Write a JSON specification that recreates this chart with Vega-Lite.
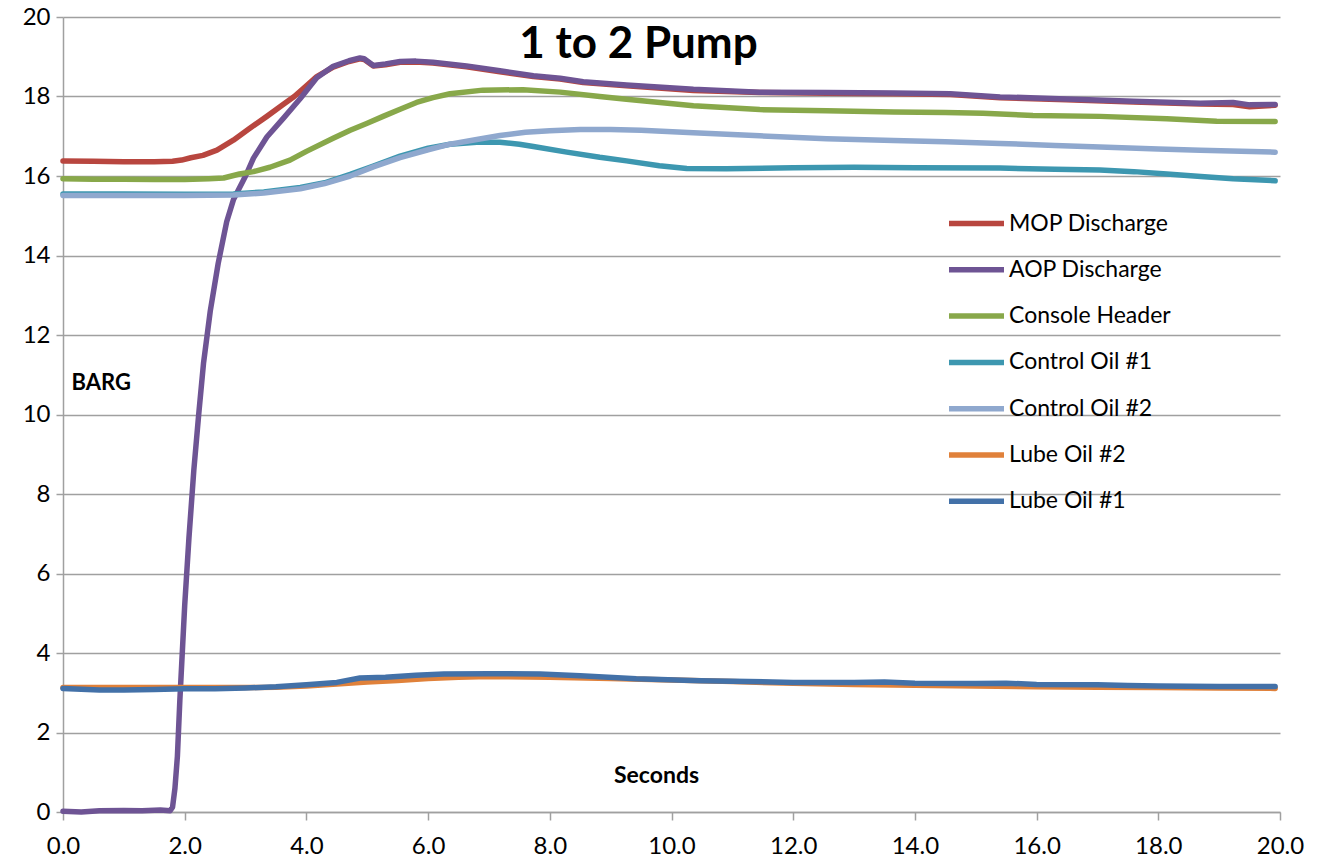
{
  "$schema": "https://vega.github.io/schema/vega-lite/v6.json",
  "width": 1217,
  "height": 795,
  "autosize": {"type": "none"},
  "padding": {"left": 63, "top": 17, "right": 40, "bottom": 51},
  "background": "white",
  "config": {"view": {"stroke": null}, "font": "Lato"},
  "title": {"text": "1 to 2 Pump", "font": "Lato", "fontSize": 44, "fontWeight": "bold", "color": "#000000", "anchor": "middle", "baseline": "alphabetic", "offset": -41, "dy": 56, "dx": -33},
  "datasets": {
    "d": [
      {"s":"MOP Discharge","t":0,"v":16.38},{"s":"MOP Discharge","t":0.5,"v":16.37},{"s":"MOP Discharge","t":1.0,"v":16.36},{"s":"MOP Discharge","t":1.5,"v":16.36},{"s":"MOP Discharge","t":1.8,"v":16.37},{"s":"MOP Discharge","t":1.95,"v":16.4},{"s":"MOP Discharge","t":2.1,"v":16.46},{"s":"MOP Discharge","t":2.3,"v":16.52},{"s":"MOP Discharge","t":2.53,"v":16.65},{"s":"MOP Discharge","t":2.8,"v":16.9},{"s":"MOP Discharge","t":3.07,"v":17.2},{"s":"MOP Discharge","t":3.35,"v":17.5},{"s":"MOP Discharge","t":3.6,"v":17.78},{"s":"MOP Discharge","t":3.8,"v":18.0},{"s":"MOP Discharge","t":4.0,"v":18.27},{"s":"MOP Discharge","t":4.17,"v":18.5},{"s":"MOP Discharge","t":4.44,"v":18.74},{"s":"MOP Discharge","t":4.7,"v":18.88},{"s":"MOP Discharge","t":4.88,"v":18.95},{"s":"MOP Discharge","t":4.95,"v":18.93},{"s":"MOP Discharge","t":5.1,"v":18.77},{"s":"MOP Discharge","t":5.3,"v":18.8},{"s":"MOP Discharge","t":5.54,"v":18.86},{"s":"MOP Discharge","t":5.8,"v":18.87},{"s":"MOP Discharge","t":6.08,"v":18.84},{"s":"MOP Discharge","t":6.63,"v":18.75},{"s":"MOP Discharge","t":7.18,"v":18.62},{"s":"MOP Discharge","t":7.73,"v":18.5},{"s":"MOP Discharge","t":8.17,"v":18.44},{"s":"MOP Discharge","t":8.55,"v":18.35},{"s":"MOP Discharge","t":9.26,"v":18.27},{"s":"MOP Discharge","t":10.36,"v":18.15},{"s":"MOP Discharge","t":11.45,"v":18.1},{"s":"MOP Discharge","t":12.55,"v":18.08},{"s":"MOP Discharge","t":13.65,"v":18.07},{"s":"MOP Discharge","t":14.58,"v":18.05},{"s":"MOP Discharge","t":15.4,"v":17.97},{"s":"MOP Discharge","t":16.49,"v":17.92},{"s":"MOP Discharge","t":17.59,"v":17.86},{"s":"MOP Discharge","t":18.69,"v":17.81},{"s":"MOP Discharge","t":19.23,"v":17.8},{"s":"MOP Discharge","t":19.5,"v":17.74},{"s":"MOP Discharge","t":19.92,"v":17.78},

      {"s":"AOP Discharge","t":0,"v":0.02},{"s":"AOP Discharge","t":0.3,"v":0.0},{"s":"AOP Discharge","t":0.6,"v":0.03},{"s":"AOP Discharge","t":1.0,"v":0.04},{"s":"AOP Discharge","t":1.3,"v":0.03},{"s":"AOP Discharge","t":1.6,"v":0.05},{"s":"AOP Discharge","t":1.76,"v":0.03},{"s":"AOP Discharge","t":1.8,"v":0.12},{"s":"AOP Discharge","t":1.84,"v":0.6},{"s":"AOP Discharge","t":1.88,"v":1.4},{"s":"AOP Discharge","t":1.92,"v":2.8},{"s":"AOP Discharge","t":1.96,"v":4.0},{"s":"AOP Discharge","t":2.0,"v":5.2},{"s":"AOP Discharge","t":2.07,"v":6.9},{"s":"AOP Discharge","t":2.15,"v":8.6},{"s":"AOP Discharge","t":2.23,"v":10.0},{"s":"AOP Discharge","t":2.31,"v":11.3},{"s":"AOP Discharge","t":2.42,"v":12.6},{"s":"AOP Discharge","t":2.55,"v":13.8},{"s":"AOP Discharge","t":2.69,"v":14.85},{"s":"AOP Discharge","t":2.8,"v":15.4},{"s":"AOP Discharge","t":3.0,"v":16.0},{"s":"AOP Discharge","t":3.13,"v":16.45},{"s":"AOP Discharge","t":3.35,"v":16.98},{"s":"AOP Discharge","t":3.62,"v":17.45},{"s":"AOP Discharge","t":3.9,"v":17.95},{"s":"AOP Discharge","t":4.17,"v":18.47},{"s":"AOP Discharge","t":4.44,"v":18.76},{"s":"AOP Discharge","t":4.7,"v":18.9},{"s":"AOP Discharge","t":4.88,"v":18.97},{"s":"AOP Discharge","t":4.95,"v":18.95},{"s":"AOP Discharge","t":5.1,"v":18.78},{"s":"AOP Discharge","t":5.3,"v":18.82},{"s":"AOP Discharge","t":5.54,"v":18.88},{"s":"AOP Discharge","t":5.8,"v":18.89},{"s":"AOP Discharge","t":6.08,"v":18.86},{"s":"AOP Discharge","t":6.63,"v":18.77},{"s":"AOP Discharge","t":7.18,"v":18.65},{"s":"AOP Discharge","t":7.73,"v":18.52},{"s":"AOP Discharge","t":8.17,"v":18.46},{"s":"AOP Discharge","t":8.55,"v":18.37},{"s":"AOP Discharge","t":9.26,"v":18.29},{"s":"AOP Discharge","t":10.36,"v":18.18},{"s":"AOP Discharge","t":11.45,"v":18.11},{"s":"AOP Discharge","t":12.55,"v":18.1},{"s":"AOP Discharge","t":13.65,"v":18.09},{"s":"AOP Discharge","t":14.58,"v":18.07},{"s":"AOP Discharge","t":15.4,"v":17.99},{"s":"AOP Discharge","t":16.49,"v":17.94},{"s":"AOP Discharge","t":17.59,"v":17.88},{"s":"AOP Discharge","t":18.69,"v":17.83},{"s":"AOP Discharge","t":19.23,"v":17.85},{"s":"AOP Discharge","t":19.5,"v":17.79},{"s":"AOP Discharge","t":19.92,"v":17.8},

      {"s":"Console Header","t":0,"v":15.93},{"s":"Console Header","t":0.5,"v":15.92},{"s":"Console Header","t":1.0,"v":15.92},{"s":"Console Header","t":1.5,"v":15.91},{"s":"Console Header","t":2.0,"v":15.91},{"s":"Console Header","t":2.4,"v":15.93},{"s":"Console Header","t":2.64,"v":15.95},{"s":"Console Header","t":2.9,"v":16.05},{"s":"Console Header","t":3.13,"v":16.11},{"s":"Console Header","t":3.4,"v":16.22},{"s":"Console Header","t":3.73,"v":16.4},{"s":"Console Header","t":4.0,"v":16.62},{"s":"Console Header","t":4.44,"v":16.95},{"s":"Console Header","t":4.72,"v":17.15},{"s":"Console Header","t":4.99,"v":17.32},{"s":"Console Header","t":5.26,"v":17.5},{"s":"Console Header","t":5.54,"v":17.68},{"s":"Console Header","t":5.81,"v":17.85},{"s":"Console Header","t":6.08,"v":17.97},{"s":"Console Header","t":6.36,"v":18.07},{"s":"Console Header","t":6.9,"v":18.16},{"s":"Console Header","t":7.56,"v":18.17},{"s":"Console Header","t":8.17,"v":18.11},{"s":"Console Header","t":8.82,"v":18.0},{"s":"Console Header","t":9.26,"v":17.93},{"s":"Console Header","t":10.36,"v":17.77},{"s":"Console Header","t":11.45,"v":17.67},{"s":"Console Header","t":12.55,"v":17.64},{"s":"Console Header","t":13.65,"v":17.61},{"s":"Console Header","t":14.5,"v":17.6},{"s":"Console Header","t":15.12,"v":17.58},{"s":"Console Header","t":15.94,"v":17.52},{"s":"Console Header","t":17.04,"v":17.5},{"s":"Console Header","t":18.14,"v":17.44},{"s":"Console Header","t":18.96,"v":17.38},{"s":"Console Header","t":19.92,"v":17.37},

      {"s":"Control Oil #1","t":0,"v":15.55},{"s":"Control Oil #1","t":1.0,"v":15.55},{"s":"Control Oil #1","t":2.0,"v":15.54},{"s":"Control Oil #1","t":2.8,"v":15.55},{"s":"Control Oil #1","t":3.3,"v":15.6},{"s":"Control Oil #1","t":3.9,"v":15.71},{"s":"Control Oil #1","t":4.3,"v":15.83},{"s":"Control Oil #1","t":4.72,"v":16.04},{"s":"Control Oil #1","t":5.1,"v":16.25},{"s":"Control Oil #1","t":5.54,"v":16.5},{"s":"Control Oil #1","t":6.0,"v":16.7},{"s":"Control Oil #1","t":6.36,"v":16.8},{"s":"Control Oil #1","t":6.8,"v":16.85},{"s":"Control Oil #1","t":7.18,"v":16.85},{"s":"Control Oil #1","t":7.5,"v":16.8},{"s":"Control Oil #1","t":7.73,"v":16.74},{"s":"Control Oil #1","t":8.28,"v":16.6},{"s":"Control Oil #1","t":8.82,"v":16.47},{"s":"Control Oil #1","t":9.26,"v":16.38},{"s":"Control Oil #1","t":9.8,"v":16.26},{"s":"Control Oil #1","t":10.25,"v":16.19},{"s":"Control Oil #1","t":10.9,"v":16.18},{"s":"Control Oil #1","t":12.0,"v":16.21},{"s":"Control Oil #1","t":13.0,"v":16.22},{"s":"Control Oil #1","t":14.0,"v":16.21},{"s":"Control Oil #1","t":15.4,"v":16.2},{"s":"Control Oil #1","t":16.3,"v":16.17},{"s":"Control Oil #1","t":17.04,"v":16.15},{"s":"Control Oil #1","t":17.6,"v":16.11},{"s":"Control Oil #1","t":18.14,"v":16.05},{"s":"Control Oil #1","t":18.7,"v":15.99},{"s":"Control Oil #1","t":19.23,"v":15.93},{"s":"Control Oil #1","t":19.92,"v":15.88},

      {"s":"Control Oil #2","t":0,"v":15.51},{"s":"Control Oil #2","t":1.0,"v":15.51},{"s":"Control Oil #2","t":2.0,"v":15.51},{"s":"Control Oil #2","t":2.8,"v":15.52},{"s":"Control Oil #2","t":3.3,"v":15.57},{"s":"Control Oil #2","t":3.9,"v":15.68},{"s":"Control Oil #2","t":4.3,"v":15.81},{"s":"Control Oil #2","t":4.72,"v":16.0},{"s":"Control Oil #2","t":5.1,"v":16.23},{"s":"Control Oil #2","t":5.54,"v":16.46},{"s":"Control Oil #2","t":6.0,"v":16.66},{"s":"Control Oil #2","t":6.36,"v":16.8},{"s":"Control Oil #2","t":6.8,"v":16.92},{"s":"Control Oil #2","t":7.18,"v":17.02},{"s":"Control Oil #2","t":7.6,"v":17.1},{"s":"Control Oil #2","t":8.0,"v":17.14},{"s":"Control Oil #2","t":8.5,"v":17.17},{"s":"Control Oil #2","t":9.0,"v":17.17},{"s":"Control Oil #2","t":9.5,"v":17.15},{"s":"Control Oil #2","t":10.36,"v":17.09},{"s":"Control Oil #2","t":11.45,"v":17.01},{"s":"Control Oil #2","t":12.55,"v":16.94},{"s":"Control Oil #2","t":13.65,"v":16.89},{"s":"Control Oil #2","t":14.5,"v":16.86},{"s":"Control Oil #2","t":15.4,"v":16.82},{"s":"Control Oil #2","t":16.3,"v":16.77},{"s":"Control Oil #2","t":17.04,"v":16.73},{"s":"Control Oil #2","t":18.0,"v":16.68},{"s":"Control Oil #2","t":18.69,"v":16.65},{"s":"Control Oil #2","t":19.92,"v":16.6},

      {"s":"Lube Oil #2","t":0,"v":3.13},{"s":"Lube Oil #2","t":1,"v":3.13},{"s":"Lube Oil #2","t":2,"v":3.13},{"s":"Lube Oil #2","t":3,"v":3.13},{"s":"Lube Oil #2","t":3.5,"v":3.14},{"s":"Lube Oil #2","t":4,"v":3.17},{"s":"Lube Oil #2","t":4.5,"v":3.22},{"s":"Lube Oil #2","t":5,"v":3.27},{"s":"Lube Oil #2","t":5.5,"v":3.31},{"s":"Lube Oil #2","t":6,"v":3.36},{"s":"Lube Oil #2","t":6.5,"v":3.39},{"s":"Lube Oil #2","t":7,"v":3.41},{"s":"Lube Oil #2","t":8,"v":3.39},{"s":"Lube Oil #2","t":9,"v":3.36},{"s":"Lube Oil #2","t":10,"v":3.32},{"s":"Lube Oil #2","t":11,"v":3.28},{"s":"Lube Oil #2","t":12,"v":3.24},{"s":"Lube Oil #2","t":13,"v":3.21},{"s":"Lube Oil #2","t":14,"v":3.19},{"s":"Lube Oil #2","t":15,"v":3.17},{"s":"Lube Oil #2","t":16,"v":3.15},{"s":"Lube Oil #2","t":17,"v":3.14},{"s":"Lube Oil #2","t":18,"v":3.13},{"s":"Lube Oil #2","t":19,"v":3.12},{"s":"Lube Oil #2","t":19.92,"v":3.11},

      {"s":"Lube Oil #1","t":0,"v":3.11},{"s":"Lube Oil #1","t":0.3,"v":3.09},{"s":"Lube Oil #1","t":0.6,"v":3.07},{"s":"Lube Oil #1","t":1,"v":3.07},{"s":"Lube Oil #1","t":1.5,"v":3.08},{"s":"Lube Oil #1","t":2,"v":3.1},{"s":"Lube Oil #1","t":2.5,"v":3.1},{"s":"Lube Oil #1","t":3,"v":3.12},{"s":"Lube Oil #1","t":3.5,"v":3.15},{"s":"Lube Oil #1","t":4,"v":3.2},{"s":"Lube Oil #1","t":4.5,"v":3.26},{"s":"Lube Oil #1","t":4.88,"v":3.37},{"s":"Lube Oil #1","t":5.3,"v":3.39},{"s":"Lube Oil #1","t":5.8,"v":3.44},{"s":"Lube Oil #1","t":6.26,"v":3.47},{"s":"Lube Oil #1","t":7,"v":3.48},{"s":"Lube Oil #1","t":7.84,"v":3.47},{"s":"Lube Oil #1","t":8.5,"v":3.43},{"s":"Lube Oil #1","t":9.42,"v":3.35},{"s":"Lube Oil #1","t":10.47,"v":3.3},{"s":"Lube Oil #1","t":11,"v":3.29},{"s":"Lube Oil #1","t":12,"v":3.26},{"s":"Lube Oil #1","t":13,"v":3.26},{"s":"Lube Oil #1","t":13.5,"v":3.27},{"s":"Lube Oil #1","t":14,"v":3.24},{"s":"Lube Oil #1","t":15,"v":3.23},{"s":"Lube Oil #1","t":15.5,"v":3.24},{"s":"Lube Oil #1","t":16,"v":3.21},{"s":"Lube Oil #1","t":17,"v":3.2},{"s":"Lube Oil #1","t":17.5,"v":3.18},{"s":"Lube Oil #1","t":18,"v":3.17},{"s":"Lube Oil #1","t":19,"v":3.16},{"s":"Lube Oil #1","t":19.92,"v":3.16}
    ]
  },
  "data": {"name": "d"},
  "mark": {"type": "line", "strokeWidth": 5.5, "strokeCap": "round", "strokeJoin": "round"},
  "encoding": {
    "x": {
      "field": "t", "type": "quantitative",
      "scale": {"domain": [0, 20], "nice": false, "zero": false},
      "axis": {
        "values": [0, 2, 4, 6, 8, 10, 12, 14, 16, 18, 20], "format": ".1f",
        "grid": false, "labelFlush": false, "labelOverlap": false,
        "domainColor": "#A0A0A0", "domainWidth": 1.5, "tickColor": "#A0A0A0", "tickWidth": 1.5, "tickSize": 8,
        "labelFont": "Lato", "labelFontSize": 24, "labelColor": "#000000", "labelPadding": 14,
        "title": "Seconds", "titleFont": "Lato", "titleFontSize": 23, "titleFontWeight": "bold", "titleColor": "#000000",
        "titleX": 593, "titleY": -37, "titleAlign": "center", "titleBaseline": "middle"
      }
    },
    "y": {
      "field": "v", "type": "quantitative",
      "scale": {"domain": [0, 20], "nice": false},
      "axis": {
        "values": [0, 2, 4, 6, 8, 10, 12, 14, 16, 18, 20],
        "grid": true, "gridColor": "#A0A0A0", "gridWidth": 1.5, "labelOverlap": false, "labelFlush": false,
        "domainColor": "#A0A0A0", "domainWidth": 1.5, "tickColor": "#A0A0A0", "tickWidth": 1.5, "tickSize": 7,
        "labelFont": "Lato", "labelFontSize": 24, "labelColor": "#000000", "labelPadding": 6,
        "title": "BARG", "titleFont": "Lato", "titleFontSize": 22, "titleFontWeight": "bold", "titleColor": "#000000",
        "titleAngle": 0, "titleX": 8, "titleY": 365, "titleAlign": "left", "titleBaseline": "middle"
      }
    },
    "color": {
      "field": "s", "type": "nominal",
      "scale": {
        "domain": ["MOP Discharge", "AOP Discharge", "Console Header", "Control Oil #1", "Control Oil #2", "Lube Oil #2", "Lube Oil #1"],
        "range": ["#B8463F", "#6E5494", "#88A84A", "#3D97B0", "#8FA8CE", "#E0813A", "#4371A8"]
      },
      "legend": {
        "orient": "none", "legendX": 883, "legendY": 176, "title": null,
        "symbolType": "stroke", "symbolSize": 3025, "symbolStrokeWidth": 5.5,
        "labelFont": "Lato", "labelFontSize": 23, "labelColor": "#000000", "labelOffset": 2, "labelLimit": 300,
        "rowPadding": 3.3, "symbolOffset": 0, "padding": 0
      }
    }
  }
}
